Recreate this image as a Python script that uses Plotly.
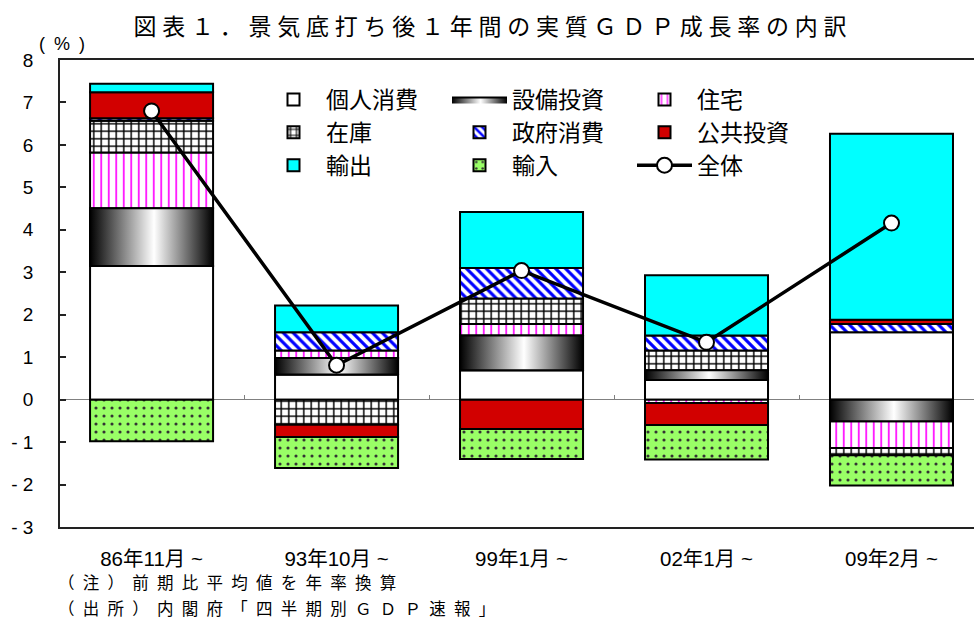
import plotly.graph_objects as go

# Contributions to real GDP growth in the first year after each business-cycle trough (%)
categories = ["86年11月 ~", "93年10月 ~", "99年1月 ~", "02年1月 ~", "09年2月 ~"]
consumption = [3.15, 0.59, 0.69, 0.46, 1.59]        # 個人消費
capex = [1.36, 0.39, 0.82, 0.23, -0.51]             # 設備投資
housing = [1.31, 0.18, 0.27, -0.08, -0.63]          # 住宅
inventory = [0.75, -0.59, 0.60, 0.47, -0.17]        # 在庫
gov_consumption = [0.06, 0.43, 0.72, 0.35, 0.19]    # 政府消費
public_investment = [0.61, -0.29, -0.69, -0.52, 0.10]  # 公共投資
exports = [0.20, 0.63, 1.32, 1.42, 4.38]            # 輸出
imports = [-0.98, -0.73, -0.71, -0.81, -0.71]       # 輸入
total = [6.80, 0.81, 3.04, 1.35, 4.16]              # 全体

y_ticks = list(range(-3, 9))
y_ticktext = [("- " + str(-v)) if v < 0 else str(v) for v in y_ticks]

title_text = "図表１．景気底打ち後１年間の実質ＧＤＰ成長率の内訳"
unit_text = "(%)"
note_lines = ["（注）前期比平均値を年率換算", "（出所）内閣府「四半期別ＧＤＰ速報」"]

CJK = "Noto Sans CJK JP"
LATIN = "Liberation Sans, Noto Sans CJK JP"
BAR_W = 0.665
OUTLINE = dict(color="black", width=2)


def spaced(text, gap="\u2005"):
    return gap.join(text)


x = list(range(len(categories)))

stack_order = [
    ("個人消費", consumption, dict(color="white")),
    ("設備投資", capex, dict(color="white")),
    ("住宅", housing, dict(color="white", pattern=dict(
        shape="|", fgcolor="#FF00FF", bgcolor="white", size=7.5, solidity=0.22, fillmode="replace"))),
    ("在庫", inventory, dict(color="white", pattern=dict(
        shape="+", fgcolor="black", bgcolor="white", size=7.5, solidity=0.35, fillmode="replace"))),
    ("政府消費", gov_consumption, dict(color="white", pattern=dict(
        shape="\\", fgcolor="#0000FF", bgcolor="white", size=7, solidity=0.45, fillmode="replace"))),
    ("公共投資", public_investment, dict(color="#D20000")),
    ("輸出", exports, dict(color="#00FFFF")),
    ("輸入", imports, dict(color="#99FF66", pattern=dict(
        shape=".", fgcolor="#333333", bgcolor="#99FF66", size=8, solidity=0.12, fillmode="replace"))),
]

# Legend laid out as a 3x3 grid, filled row by row: one vertical legend per column.
legend_names = [name for name, _, _ in stack_order] + ["全体"]
legend_ids = ["legend", "legend2", "legend3"]
legend_of = {name: legend_ids[k % 3] for k, name in enumerate(legend_names)}
legend_rank = {name: k + 1 for k, name in enumerate(legend_names)}

fig = go.Figure()

for name, vals, marker in stack_order:
    marker = dict(marker, line=OUTLINE)
    fig.add_trace(go.Bar(
        x=x, y=vals, name=name, width=BAR_W, marker=marker,
        showlegend=(name != "設備投資"), legend=legend_of[name],
        legendrank=legend_rank[name], hoverinfo="skip",
    ))

# Equipment investment gets a horizontal black-white-black gradient,
# drawn over its stacked segment (relative stacking: same-sign values pile up).
gradient = dict(type="horizontal", colorscale=[[0, "#000000"], [0.52, "#FFFFFF"], [1, "#000000"]])
for i in x:
    v = capex[i]
    base = consumption[i] if consumption[i] * v > 0 else 0.0
    x0, x1 = i - BAR_W / 2, i + BAR_W / 2
    fig.add_trace(go.Scatter(
        x=[x0, x1, x1, x0, x0], y=[base, base, base + v, base + v, base],
        fill="toself", mode="lines", line=dict(color="black", width=2),
        fillgradient=gradient, name="設備投資", legendgroup="capex",
        showlegend=(i == 0), legend=legend_of["設備投資"],
        legendrank=legend_rank["設備投資"], hoverinfo="skip",
    ))

fig.add_trace(go.Scatter(
    x=x, y=total, name="全体", mode="lines+markers", xaxis="x2",
    line=dict(color="black", width=3.5),
    marker=dict(size=15, color="white", line=dict(color="black", width=2)),
    legend=legend_of["全体"], legendrank=legend_rank["全体"], hoverinfo="skip",
))

x_range = [-0.495, 4.446]
y_range = [-3, 8]


def legend_box(left_px):
    return dict(orientation="v", x=(left_px - 60) / 914, xanchor="left",
                y=(527 - 78) / 467, yanchor="top", itemwidth=55,
                font=dict(family=CJK, size=23), bgcolor="rgba(0,0,0,0)",
                traceorder="normal")


fig.update_layout(
    width=974, height=624,
    margin=dict(l=60, r=0, t=60, b=97),
    paper_bgcolor="white", plot_bgcolor="white",
    barmode="relative",
    font=dict(family=LATIN, color="black"),
    title=dict(text=spaced(title_text), x=490 / 974, xanchor="center",
               y=1 - 27 / 624, yanchor="middle", yref="container",
               font=dict(family=CJK, size=23, color="black")),
    xaxis=dict(range=x_range, tickvals=x, ticktext=categories, ticks="",
               showline=True, linecolor="#222222", linewidth=1.5, mirror=True,
               showgrid=False, zeroline=False, ticklabelstandoff=13,
               tickfont=dict(size=20.5, family=LATIN)),
    xaxis2=dict(range=x_range, overlaying="x", anchor="free",
                position=(0 - y_range[0]) / (y_range[1] - y_range[0]),
                tickvals=[0.5, 1.5, 2.5, 3.5], ticks="inside", ticklen=5,
                tickwidth=1, tickcolor="#808080", showticklabels=False,
                showline=False, showgrid=False, zeroline=False),
    yaxis=dict(range=y_range, tickvals=y_ticks, ticktext=y_ticktext,
               ticks="inside", ticklen=6, tickwidth=1.5, tickcolor="#222222",
               showline=True, linecolor="#222222", linewidth=1.5,
               showgrid=False, zeroline=True, zerolinecolor="#808080", zerolinewidth=1,
               ticklabelstandoff=21, tickfont=dict(size=19, family=LATIN)),
    legend=legend_box(261),
    legend2=legend_box(447),
    legend3=legend_box(632),
    showlegend=True,
)

fig.add_annotation(text=spaced(unit_text, "\u2002"), xref="paper", yref="paper",
                   x=(37 - 60) / 914, y=(527 - 44) / 467, xanchor="left", yanchor="middle",
                   showarrow=False, font=dict(family=LATIN, size=18))

for k, line in enumerate(note_lines):
    fig.add_annotation(text=spaced(line, "\u2002"), xref="paper", yref="paper",
                       x=(56 - 60) / 914, y=(527 - (582 + 26 * k)) / 467,
                       xanchor="left", yanchor="middle", showarrow=False,
                       font=dict(family=CJK, size=16.5))

fig.write_html("out.html")
